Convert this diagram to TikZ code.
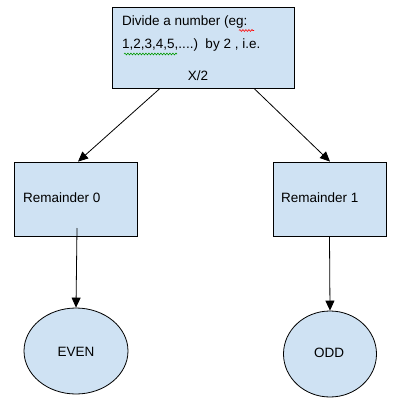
\documentclass[tikz,border=0pt]{standalone}
\usepackage{fontspec}
\setmainfont{Liberation Sans}
\usetikzlibrary{arrows.meta,shapes.geometric,decorations.pathmorphing}
\begin{document}
\begin{tikzpicture}[x=1pt,y=-1pt,
  boxst/.style={draw=black,fill=boxblue,line width=0.8pt,inner sep=0pt},
  conn/.style={draw=black,line width=0.8pt,-{Triangle[length=10pt,width=9pt]}},
  lbl/.style={font=\fontsize{13.5}{16}\selectfont,inner sep=0pt,anchor=west},
  squig/.style={line width=0.6pt,decorate,decoration={snake,amplitude=0.9pt,segment length=3pt}}]
\definecolor{boxblue}{HTML}{CFE2F3}
\useasboundingbox (0,0) rectangle (401,402);
% nodes
\node[boxst,rectangle,minimum width=182pt,minimum height=81pt] (top) at (203,47.5) {};
\node[lbl] (t1) at (122,22) {Divide a number (eg:};
\node[lbl] (t2) at (122,45) {1,2,3,4,5,....)\ \ by 2 , i.e.};
\node[lbl,anchor=center] (t3) at (198,76) {X/2};
\node[boxst,rectangle,minimum width=123pt,minimum height=74pt] (r0) at (75.5,199) {};
\node[lbl] (r0t) at (23,198) {Remainder 0};
\node[boxst,rectangle,minimum width=113pt,minimum height=74pt] (r1) at (329.5,199) {};
\node[lbl] (r1t) at (281,198) {Remainder 1};
\node[boxst,ellipse,minimum width=104pt,minimum height=86pt] (even) at (76,351) {};
\node[lbl,anchor=center] (event) at (76,352) {EVEN};
\node[boxst,ellipse,minimum width=93pt,minimum height=86pt] (odd) at (330,354) {};
\node[lbl,anchor=center] (oddt) at (329,353) {ODD};
% spell-check marks
\draw[squig,red] (239,30.5) -- (254,30.5);
\draw[squig,green!60!black] (124,54) -- (177,54);
% connectors
\coordinate (a0) at (top.south -| 160,0);
\coordinate (a1) at (top.south -| 254,0);
\coordinate (b0) at (r0.north -| 78,0);
\coordinate (b1) at (r1.north -| 330,0);
\coordinate (d0) at (77,228);
\draw[conn] (a0) -- (b0);
\draw[conn] (a1) -- (b1);
\draw[conn] (d0) -- (even.north);
\draw[conn] (r1.south) -- (odd.north);
\end{tikzpicture}
\end{document}
